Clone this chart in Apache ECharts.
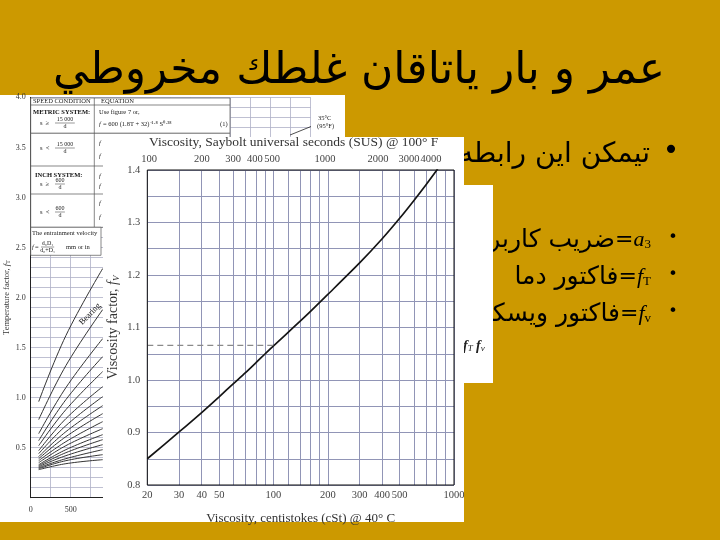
<!DOCTYPE html>
<html><head><meta charset="utf-8">
<script src="https://cdn.jsdelivr.net/npm/echarts@6/dist/echarts.min.js"></script>
<style>html,body{margin:0;padding:0;background:#CC9900}#c{width:720px;height:540px}</style>
</head><body><div id="c"></div>
<script>
// ---------- main chart (viscosity factor) ----------
const cstValues = [20, 30, 40, 50, 60, 70, 80, 90, 100, 150, 200, 300, 400, 500, 600, 700, 800, 820];
const fvValues  = [0.850, 0.901, 0.938, 0.968, 0.993, 1.014, 1.033, 1.050, 1.065, 1.121, 1.163, 1.223, 1.269, 1.308, 1.342, 1.372, 1.399, 1.405];
const refCst = [20, 100];
const refFv = [1.066, 1.066];
const cstGridTicks = [20, 30, 40, 50, 60, 70, 80, 90, 100, 120, 140, 160, 180, 200, 300, 400, 500, 600, 700, 800, 900, 1000];
const cstTickLabels = [20, 30, 40, 50, 100, 200, 300, 400, 500, 1000];
const susTickLabels = [100, 200, 300, 400, 500, 1000, 2000, 3000, 4000];
const susRange = [97.8, 5400];
const cstRange = [20, 1000];
const fvRange = [0.8, 1.4];

// ---------- background chart (temperature factor) ----------
const tfSpeed = [100, 440, 900];
const tfStart = [0.96, 0.78, 0.64, 0.57, 0.52, 0.47, 0.44, 0.41, 0.39, 0.37, 0.35, 0.33, 0.32, 0.31, 0.30, 0.29, 0.28];
const tfMid   = [1.62, 1.32, 1.10, 0.98, 0.88, 0.79, 0.72, 0.66, 0.61, 0.56, 0.52, 0.48, 0.45, 0.42, 0.39, 0.37, 0.34];
const tfEnd   = [2.29, 1.88, 1.59, 1.41, 1.26, 1.11, 1.01, 0.92, 0.84, 0.76, 0.69, 0.63, 0.58, 0.53, 0.48, 0.43, 0.38];
const tfRange = [0, 4];
const speedRange = [0, 3500];

const LOG = Math.log10;
const SERIF = 'Liberation Serif';
const SANS = 'DejaVu Sans';

const g = [];
function rect(x, y, w, h, fill, stroke, lw, z) {
  g.push({type: 'rect', silent: true, z: z, shape: {x: x, y: y, width: w, height: h},
          style: {fill: fill, stroke: stroke || null, lineWidth: lw || 0}});
}
function seg(x1, y1, x2, y2, stroke, lw, z) {
  g.push({type: 'line', silent: true, z: z, shape: {x1: x1, y1: y1, x2: x2, y2: y2},
          style: {stroke: stroke, lineWidth: lw}});
}
function txt(x, y, t, st, z, rot) {
  const el = {type: 'text', silent: true, z: z, x: x, y: y,
    style: Object.assign({text: t, fill: '#000', align: 'left', verticalAlign: 'middle'}, st)};
  if (rot) el.rotation = rot;
  g.push(el);
}
function frac(x, y, num, den, z) {
  const w = num.length * 3.3;
  txt(x + w / 2, y - 3.8, num, {fontFamily: SERIF, fontSize: 6, align: 'center', fill: '#222'}, z);
  seg(x, y, x + w, y, '#333', 0.5, z);
  txt(x + w / 2, y + 3.8, den, {fontFamily: SERIF, fontSize: 6, align: 'center', fill: '#222'}, z);
}

// slide texts
txt(359, 72, 'عمر و بار ياتاقان غلطك مخروطي', {fontFamily: SANS, fontSize: 44, align: 'center'}, 1);
txt(671, 152, '•', {fontFamily: SANS, fontSize: 28, align: 'center'}, 1);
txt(650, 155, 'تيمكن اين رابطه', {fontFamily: SANS, fontSize: 28, align: 'right'}, 1);
const richB = {
  ar: {fontFamily: SANS, fontSize: 25, fill: '#000'},
  eq: {fontFamily: SANS, fontSize: 22, fill: '#000'},
  it: {fontFamily: SERIF, fontStyle: 'italic', fontSize: 22, fill: '#000'},
  sub: {fontFamily: SERIF, fontSize: 13, fill: '#000', padding: [10, 0, 0, 0]}
};
const bullets = [
  ['ضريب كاربردي', 'a', '3', 240],
  ['فاكتور دما', 'f', 'T', 277],
  ['فاكتور ويسكوزيته', 'f', 'v', 314]
];
bullets.forEach(function (b) {
  txt(673, b[3] - 2, '•', {fontFamily: SANS, fontSize: 16, align: 'center'}, 1);
  txt(651, b[3], '{ar|' + b[0] + '}{eq|=}{it|' + b[1] + '}{sub|' + b[2] + '}', {rich: richB, align: 'right'}, 1);
});
// white box with fT fv
rect(330, 185, 163, 198, '#fff', null, 0, 2);
txt(463, 346, '{i|f}{s|T} {i|f}{s|v}', {rich: {
  i: {fontFamily: SERIF, fontStyle: 'italic', fontWeight: 'bold', fontSize: 14, fill: '#222'},
  s: {fontFamily: SERIF, fontStyle: 'italic', fontSize: 9, fill: '#222', padding: [6, 0, 0, 0]}}}, 3);

// background chart panel
rect(0, 95, 345, 427, '#fff', null, 0, 1);
// table
const TZ = 6;
rect(30.7, 98, 199.3, 35.3, '#fff', '#555', 0.7, TZ);
seg(30.7, 105, 230, 105, '#555', 0.7, TZ);
rect(30.7, 133.3, 199.3, 94, '#fff', '#555', 0.7, TZ);
seg(30.7, 166, 230, 166, '#555', 0.7, TZ);
seg(30.7, 194, 230, 194, '#555', 0.7, TZ);
seg(94.3, 98, 94.3, 227.3, '#555', 0.7, TZ);
rect(30.7, 227.3, 70.3, 28, '#fff', '#555', 0.7, TZ);
const tsm = {fontFamily: SERIF, fontSize: 6.5, fill: '#222'};
const tit = Object.assign({}, tsm, {fontStyle: 'italic'});
const tbold = {fontFamily: SERIF, fontSize: 6.5, fontWeight: 'bold', fill: '#111'};
txt(33, 101.5, 'SPEED CONDITION', tsm, TZ + 1);
txt(101, 101.5, 'EQUATION', tsm, TZ + 1);
txt(33, 112, 'METRIC SYSTEM:', tbold, TZ + 1);
txt(40, 123, 's  ≥', tsm, TZ + 1); frac(55, 123, '15 000', 'd', TZ + 1);
txt(99, 112, 'Use figure 7 or,', tsm, TZ + 1);
txt(99, 124, 'f', tit, TZ + 1);
txt(103, 124, '= 600 (1.8T + 32)⁻¹·⁸ S⁰·³⁸', tsm, TZ + 1);
txt(220, 124, '(1)', tsm, TZ + 1);
txt(40, 148, 's  <', tsm, TZ + 1); frac(55, 148, '15 000', 'd', TZ + 1);
txt(35, 175, 'INCH SYSTEM:', tbold, TZ + 1);
txt(40, 184, 's  ≥', tsm, TZ + 1); frac(55, 184, '600', 'd', TZ + 1);
txt(40, 212, 's  <', tsm, TZ + 1); frac(55, 212, '600', 'd', TZ + 1);
[143, 156, 176, 186, 203, 217].forEach(function (yy) { txt(99, yy, 'f', tit, TZ + 1); });
txt(32, 233, 'The entrainment velocity', tsm, TZ + 1);
txt(32, 247, 'f', tit, TZ + 1);
txt(35, 247, '=', tsm, TZ + 1);
frac(41, 247, 'd₀D₁', 'd₀+D₁', TZ + 1);
txt(66, 247, 'mm or in', tsm, TZ + 1);
txt(318, 118, '35°C', {fontFamily: SERIF, fontSize: 6.5, fill: '#222'}, TZ + 1);
txt(317, 126, '(95°F)', {fontFamily: SERIF, fontSize: 6.5, fill: '#222'}, TZ + 1);
seg(290, 135, 311, 126.5, '#222', 0.8, TZ + 1);
txt(90, 314, 'Bearing', {fontFamily: SERIF, fontSize: 8.5, fill: '#222', align: 'center'}, TZ + 1, 0.8);

// main chart panel
rect(103, 137, 361, 385, '#fff', null, 0, 10);

// series
const series = [];
tfStart.forEach(function (s, i) {
  series.push({type: 'line', xAxisIndex: 0, yAxisIndex: 0, z: 5, silent: true, smooth: 0.4,
    showSymbol: false, symbol: 'none', lineStyle: {color: '#333', width: 1},
    data: [[tfSpeed[0], s], [tfSpeed[1], tfMid[i]], [tfSpeed[2], tfEnd[i]]]});
});
series.push({type: 'line', xAxisIndex: 1, yAxisIndex: 1, z: 13, silent: true, smooth: 0.25,
  symbol: 'none', lineStyle: {color: '#151515', width: 1.7},
  data: cstValues.map(function (c, i) { return [LOG(c), fvValues[i]]; })});
series.push({type: 'line', xAxisIndex: 1, yAxisIndex: 1, z: 13, silent: true,
  symbol: 'none', lineStyle: {color: '#8a8a8a', width: 1.2, type: [6, 4]},
  data: refCst.map(function (c, i) { return [LOG(c), refFv[i]]; })});

const lbl = {fontFamily: SERIF, fontSize: 10.5, color: '#444'};
const pow10 = function (v) { return String(Math.round(Math.pow(10, v))); };
const option = {
  backgroundColor: '#CC9900',
  animation: false,
  graphic: {elements: g},
  grid: [
    {left: 30.7, top: 97.4, width: 280, height: 400.3, show: false, z: 4},
    {left: 147.3, top: 170, width: 306.7, height: 315, show: true, borderColor: '#111', borderWidth: 1,
     backgroundColor: 'transparent', z: 14}
  ],
  xAxis: [
    {gridIndex: 0, type: 'value', min: speedRange[0], max: speedRange[1], interval: 250, z: 4,
     axisLine: {lineStyle: {color: '#222', width: 1}}, axisTick: {show: false},
     splitLine: {lineStyle: {color: '#aeb0c6', width: 0.8}},
     axisLabel: {fontFamily: SERIF, fontSize: 8, color: '#333', margin: 8,
       formatter: function (v) { return v % 500 === 0 ? String(v) : ''; }}},
    {gridIndex: 1, type: 'value', position: 'bottom', min: LOG(cstRange[0]), max: LOG(cstRange[1]), z: 12,
     axisLine: {show: false},
     axisTick: {show: false, customValues: cstGridTicks.map(LOG)},
     splitLine: {show: true, lineStyle: {color: '#9195b6', width: 1}},
     axisLabel: Object.assign({customValues: cstTickLabels.map(LOG), margin: 5, formatter: pow10}, lbl),
     name: 'Viscosity, centistokes (cSt) @ 40° C', nameLocation: 'middle', nameGap: 27,
     nameTextStyle: {fontFamily: SERIF, fontSize: 13, color: '#333'}},
    {gridIndex: 1, type: 'value', position: 'top', min: LOG(susRange[0]), max: LOG(susRange[1]), z: 12,
     axisLine: {show: false}, axisTick: {show: false}, splitLine: {show: false},
     axisLabel: Object.assign({customValues: susTickLabels.map(LOG), margin: 5, formatter: pow10}, lbl),
     name: 'Viscosity, Saybolt universal seconds (SUS) @ 100° F', nameLocation: 'middle', nameGap: 20,
     nameTextStyle: {fontFamily: SERIF, fontSize: 13.5, color: '#333', padding: [0, 14, 0, 0]}}
  ],
  yAxis: [
    {gridIndex: 0, type: 'value', min: tfRange[0], max: tfRange[1], interval: 0.1, z: 4,
     axisLine: {show: true, lineStyle: {color: '#222', width: 1}}, axisTick: {show: false},
     splitLine: {lineStyle: {color: '#aeb0c6', width: 0.8}},
     axisLabel: {fontFamily: SERIF, fontSize: 8, color: '#333', margin: 5,
       formatter: function (v) { return (v > 0 && Math.round(v * 10) % 5 === 0) ? v.toFixed(1) : ''; }},
     name: 'Temperature factor, {i|f}{s|T}', nameLocation: 'middle', nameGap: 19,
     nameTextStyle: {fontFamily: SERIF, fontSize: 8.5, color: '#333', rich: {
       i: {fontFamily: SERIF, fontSize: 8.5, fontStyle: 'italic', color: '#333'},
       s: {fontFamily: SERIF, fontSize: 6, color: '#333', padding: [3, 0, 0, 0]}}}},
    {gridIndex: 1, type: 'value', min: fvRange[0], max: fvRange[1], interval: 0.05, z: 12,
     axisLine: {show: false}, axisTick: {show: false},
     splitLine: {lineStyle: {color: '#9195b6', width: 1}},
     axisLabel: Object.assign({margin: 7,
       formatter: function (v) { return Math.round(v * 100) % 10 === 0 ? v.toFixed(1) : ''; }}, lbl),
     name: 'Viscosity factor, {i|f}{s|V}', nameLocation: 'middle', nameGap: 26,
     nameTextStyle: {fontFamily: SERIF, fontSize: 14, color: '#333', rich: {
       i: {fontFamily: SERIF, fontSize: 14, fontStyle: 'italic', color: '#333'},
       s: {fontFamily: SERIF, fontSize: 9, fontStyle: 'italic', color: '#333', padding: [6, 0, 0, 0]}}}}
  ],
  series: series
};
const chart = echarts.init(document.getElementById('c'), null, {renderer: 'canvas', width: 720, height: 540});
chart.setOption(option);
</script>
</body></html>
